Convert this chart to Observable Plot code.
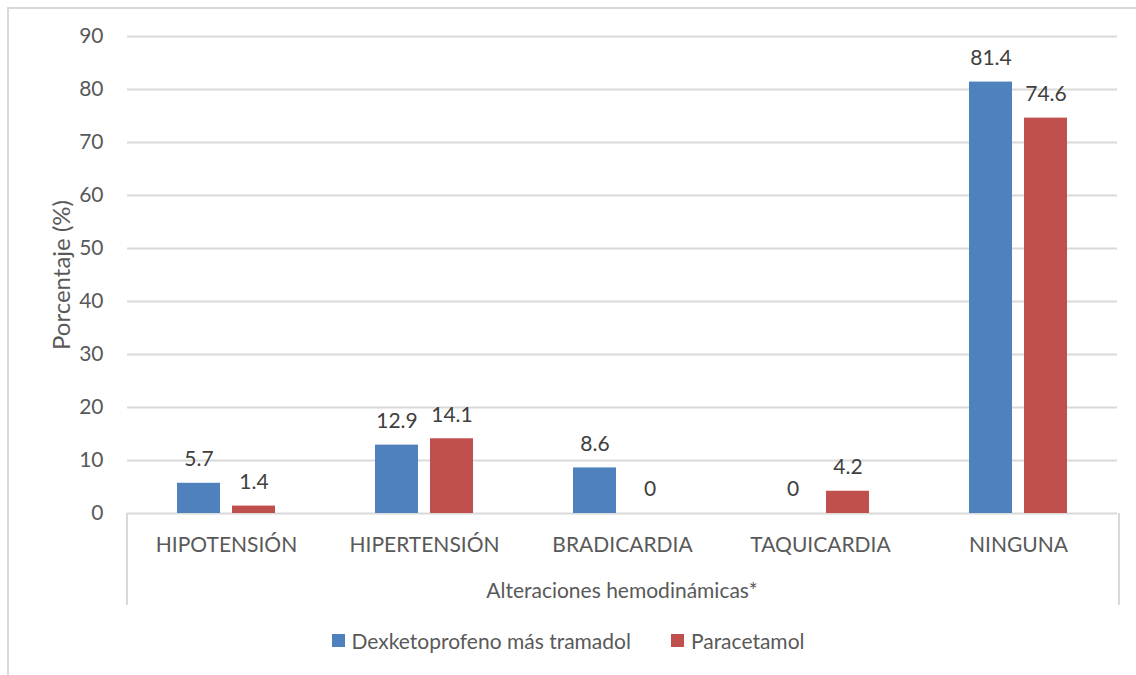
<!DOCTYPE html>
<html><head><meta charset="utf-8">
<script src="https://cdn.jsdelivr.net/npm/d3@7"></script>
<script src="https://cdn.jsdelivr.net/npm/@observablehq/plot@0.6"></script>
<style>
body{margin:0;background:#fff;font-family:Lato,"Noto Sans",sans-serif;}
#wrap{position:relative;width:1136px;height:675px;overflow:hidden;background:#fff;}
#frame{position:absolute;left:7px;top:7px;width:1160px;height:700px;border:2px solid #d9d9d9;box-sizing:border-box;}
#chart{position:absolute;left:0;top:0;}
#catbox{position:absolute;left:126px;top:513px;width:990px;height:92px;border-left:2px solid #d9d9d9;border-right:2px solid #d9d9d9;}
#xtitle{position:absolute;left:127px;width:990px;top:577px;text-align:center;font-size:21px;color:#595959;}
#ytitle{position:absolute;left:60px;top:275px;transform:translate(-50%,-50%) rotate(-90deg);font-size:24px;color:#595959;white-space:nowrap;}
#legend{position:absolute;top:628px;left:0;width:1136px;display:flex;justify-content:center;gap:40px;font-size:21px;color:#595959;}
#legend span.item{display:flex;align-items:center;gap:7px;}
#legend i{display:inline-block;width:13px;height:13px;}
</style></head>
<body>
<div id="wrap">
  <div id="frame"></div>
  <div id="chart"></div>
  <div id="catbox"></div>
  <div id="xtitle">Alteraciones hemodinámicas*</div>
  <div id="ytitle">Porcentaje (%)</div>
  <div id="legend"></div>
</div>
<script>
const categories = ["HIPOTENSIÓN", "HIPERTENSIÓN", "BRADICARDIA", "TAQUICARDIA", "NINGUNA"];
const seriesNames = ["Dexketoprofeno más tramadol", "Paracetamol"];
const dexketoprofeno = [5.7, 12.9, 8.6, 0, 81.4];
const paracetamol = [1.4, 14.1, 0, 4.2, 74.6];
const colors = ["#4F81BD", "#C0504D"];
const yTicks = [0, 10, 20, 30, 40, 50, 60, 70, 80, 90];

const seriesValues = [dexketoprofeno, paracetamol];
const data = [];
categories.forEach((c, i) => {
  seriesNames.forEach((s, j) => data.push({category: c, series: s, value: seriesValues[j][i]}));
});

const chart = Plot.plot({
  width: 1136,
  height: 620,
  marginLeft: 127,
  marginRight: 19,
  marginTop: 36,
  marginBottom: 107,
  style: {fontFamily: "Lato, 'Noto Sans', sans-serif", fontSize: "21px", color: "#595959", background: "transparent"},
  fx: {domain: categories, padding: 0, axis: "bottom", tickSize: 0, tickPadding: 24, label: null},
  x: {domain: seriesNames, axis: null, paddingInner: 0.214, paddingOuter: 0.875},
  y: {domain: [0, 90], ticks: yTicks, tickSize: 0, tickPadding: 24, label: null, tickFormat: d => String(d)},
  color: {domain: seriesNames, range: colors},
  marks: [
    Plot.ruleY(yTicks, {stroke: "#d9d9d9", strokeWidth: 2}),
    Plot.barY(data, {fx: "category", x: "series", y: "value", fill: "series"}),
    Plot.text(data, {fx: "category", x: "series", y: "value", text: d => String(d.value), dy: -24, fill: "#404040", fontSize: 21})
  ]
});
document.getElementById("chart").appendChild(chart);

const legend = document.getElementById("legend");
seriesNames.forEach((s, j) => {
  const it = document.createElement("span");
  it.className = "item";
  it.innerHTML = `<i style="background:${colors[j]}"></i>${s}`;
  legend.appendChild(it);
});
</script>
</body></html>
